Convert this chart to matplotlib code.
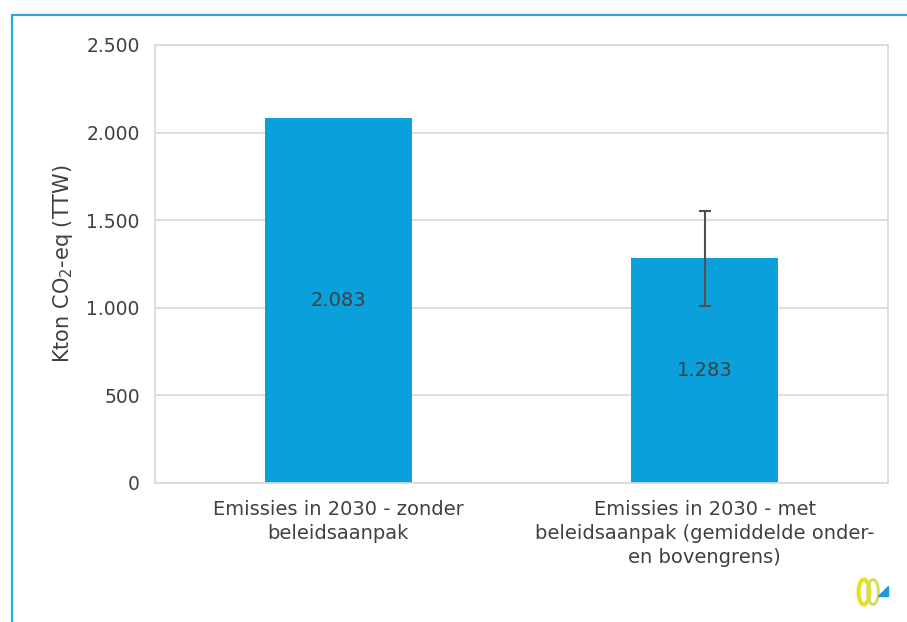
import matplotlib.pyplot as plt
import matplotlib.patches as mpatches
from matplotlib.ticker import FuncFormatter

categories = ['Emissies in 2030 - zonder\nbeleidsaanpak',
              'Emissies in 2030 - met\nbeleidsaanpak (gemiddelde onder-\nen bovengrens)']
values = [2083, 1283]
errors = [0, 270]
yticks = [0, 500, 1000, 1500, 2000, 2500]

bar_color = '#0aa0db'
text_color = '#404040'
plt.rcParams['font.family'] = ['DejaVu Sans']

fig = plt.figure(figsize=(9.07, 6.22), dpi=100)
ax = fig.add_axes([155 / 907, 1 - 483 / 622, 733 / 907, 438 / 622])

# cyan frame around the chart
fig.add_artist(mpatches.Rectangle((12 / 907, -0.05), 1.0, 1 - 15 / 622 + 0.05,
                                  transform=fig.transFigure, fill=False,
                                  edgecolor='#2aa8d8', linewidth=1.6))

x = range(len(values))
bars = ax.bar(x, values, width=0.4, color=bar_color, zorder=2)
ax.errorbar(1, values[1], yerr=errors[1], fmt='none', ecolor='#505050',
            elinewidth=1.5, capsize=4.5, capthick=1.5, zorder=3)

fmt = lambda v: f'{v:,.0f}'.replace(',', '.')
for b, v in zip(bars, values):
    ax.text(b.get_x() + b.get_width() / 2, v / 2, fmt(v), ha='center', va='center',
            fontsize=14, color=text_color, zorder=4)

ax.set_xlim(-0.5, 1.5)
ax.set_ylim(0, 2500)
ax.set_yticks(yticks)
ax.yaxis.set_major_formatter(FuncFormatter(lambda v, p: fmt(v)))
ax.set_xticks(list(x))
ax.set_xticklabels(categories, fontsize=14, color=text_color, linespacing=1.35)
ax.tick_params(axis='y', labelsize=13.5, labelcolor=text_color, length=0, pad=11)
ax.tick_params(axis='x', length=0, pad=12)
ax.grid(axis='y', color='#d9d9d9', linewidth=1.2, zorder=0)
for s in ax.spines.values():
    s.set_color('#d9d9d9')
    s.set_linewidth(1.2)
ax.set_ylabel('Kton CO$_2$-eq (TTW)', fontsize=15, color=text_color, labelpad=8)

# small logo bottom right
fig.add_artist(mpatches.Ellipse((864 / 907, 1 - 592 / 622), 0.012, 0.04,
                                transform=fig.transFigure, fill=False,
                                edgecolor='#e8e020', linewidth=3))
fig.add_artist(mpatches.Ellipse((873 / 907, 1 - 592 / 622), 0.012, 0.04,
                                transform=fig.transFigure, fill=False,
                                edgecolor='#d8d860', linewidth=2))
fig.add_artist(mpatches.Polygon([[878 / 907, 1 - 596 / 622], [888 / 907, 1 - 596 / 622],
                                 [888 / 907, 1 - 586 / 622]],
                                transform=fig.transFigure, color='#1a9ad8'))

fig.savefig('out.png', dpi=100)
